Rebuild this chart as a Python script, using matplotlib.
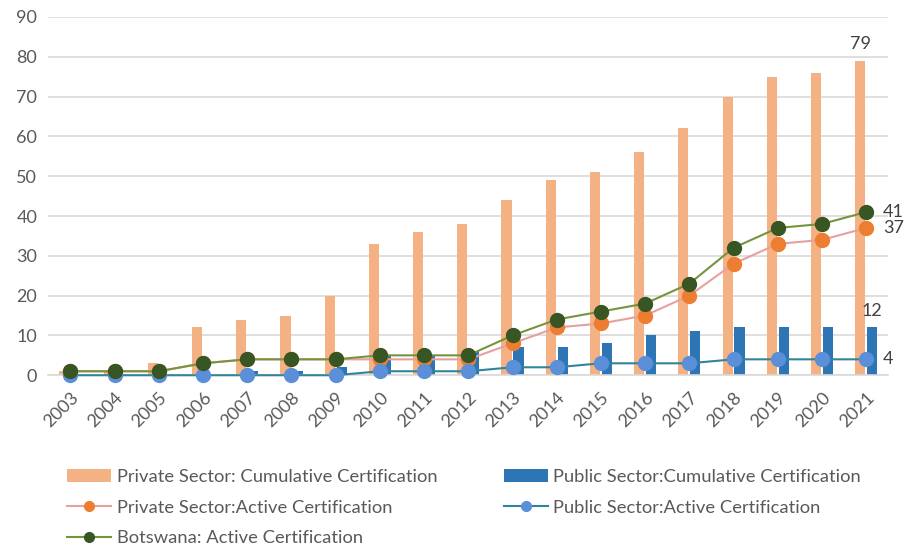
import numpy as np
import matplotlib.pyplot as plt

plt.rcParams['font.family'] = ['Lato', 'DejaVu Sans']

years = [str(y) for y in range(2003, 2022)]
private_cumulative = [1, 1, 3, 12, 14, 15, 20, 33, 36, 38, 44, 49, 51, 56, 62, 70, 75, 76, 79]
public_cumulative = [0, 0, 0, 0, 1, 1, 2, 5, 5, 6, 7, 7, 8, 10, 11, 12, 12, 12, 12]
private_active = [1, 1, 1, 3, 4, 4, 4, 4, 4, 4, 8, 12, 13, 15, 20, 28, 33, 34, 37]
public_active = [0, 0, 0, 0, 0, 0, 0, 1, 1, 1, 2, 2, 3, 3, 3, 4, 4, 4, 4]
botswana_active = [1, 1, 1, 3, 4, 4, 4, 5, 5, 5, 10, 14, 16, 18, 23, 32, 37, 38, 41]

x = np.arange(len(years))
grey = '#595959'

fig = plt.figure(figsize=(9.12, 5.47), dpi=100)
ax = fig.add_axes([0.053, 0.314, 0.921, 0.655])

b1 = ax.bar(x - 0.135, private_cumulative, width=0.23, color='#F4B183', zorder=2,
            label='Private Sector: Cumulative Certification')
b2 = ax.bar(x + 0.135, public_cumulative, width=0.23, color='#2E75B6', zorder=2,
            label='Public Sector:Cumulative Certification')
l1, = ax.plot(x, private_active, color='#E6A0A0', lw=1.5, marker='o', ms=10,
              mfc='#ED7D31', mec='#ED7D31', zorder=3, clip_on=False,
              label='Private Sector:Active Certification')
l2, = ax.plot(x, public_active, color='#31849B', lw=1.5, marker='o', ms=10,
              mfc='#5B8FD8', mec='#5B8FD8', zorder=3, clip_on=False,
              label='Public Sector:Active Certification')
l3, = ax.plot(x, botswana_active, color='#77933C', lw=1.5, marker='o', ms=10,
              mfc='#375623', mec='#375623', zorder=4, clip_on=False,
              label='Botswana: Active Certification')

# end labels
last = len(years) - 1
ax.annotate(str(private_cumulative[-1]), (x[last] - 0.135, private_cumulative[-1]),
            xytext=(0, 6), textcoords='offset points', ha='center', va='bottom',
            fontsize=13, color='#404040')
ax.annotate(str(public_cumulative[-1]), (x[last] + 0.135, public_cumulative[-1]),
            xytext=(0, 6), textcoords='offset points', ha='center', va='bottom',
            fontsize=13, color='#404040')
for vals in (botswana_active, private_active, public_active):
    ax.annotate(str(vals[-1]), (x[last], vals[-1]), xytext=(12, 0),
                textcoords='offset points', ha='left', va='center',
                fontsize=13, color='#404040')

ax.set_xlim(-0.5, len(years) - 0.5)
ax.set_ylim(0, 90)
ax.set_yticks(range(0, 91, 10))
ax.set_xticks(x)
ax.set_xticklabels(years, rotation=45, ha='right', rotation_mode='anchor')
ax.tick_params(axis='both', length=0, labelsize=13, labelcolor=grey)
ax.tick_params(axis='x', pad=10)
ax.tick_params(axis='y', pad=8)
ax.yaxis.grid(True, color='#D9D9D9', lw=1.2, zorder=0)
ax.set_axisbelow(True)
for s in ['top', 'right', 'left']:
    ax.spines[s].set_visible(False)
ax.spines['bottom'].set_color('#D9D9D9')
ax.spines['bottom'].set_linewidth(1.2)

fig.legend([b1, l1, l3, b2, l2],
           [b1.get_label(), l1.get_label(), l3.get_label(), b2.get_label(), l2.get_label()],
           loc='upper left', bbox_to_anchor=(0.074, 0.142), ncol=2, frameon=False,
           fontsize=13.2, labelcolor=grey, handlelength=2.4, handletextpad=0.3,
           columnspacing=3.6, labelspacing=0.78, borderaxespad=0, borderpad=0,
           markerscale=0.7)

fig.savefig('out.png', dpi=100)
